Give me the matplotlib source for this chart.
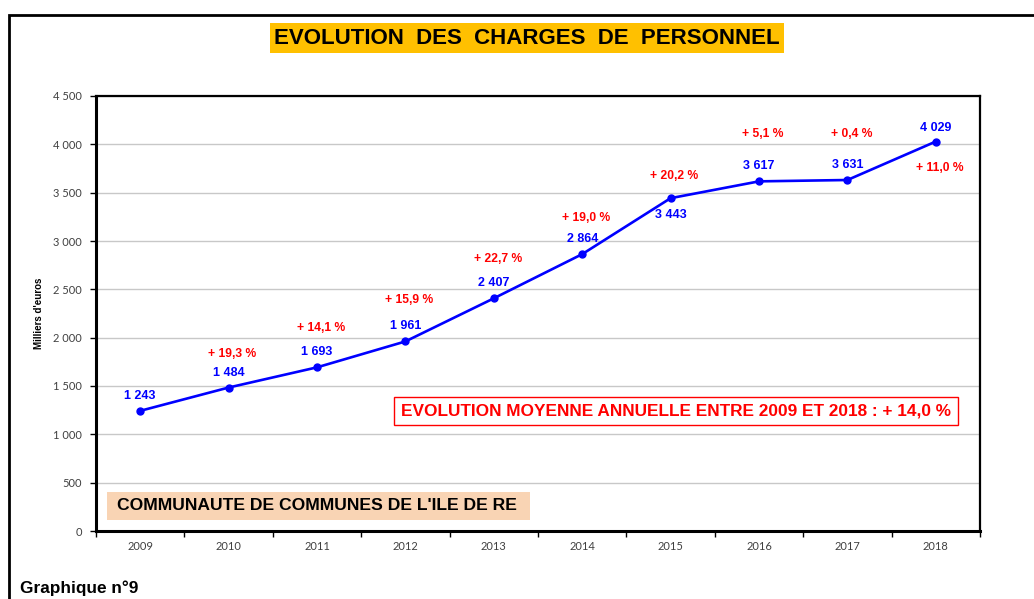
import matplotlib
matplotlib.use("Agg")
import matplotlib.pyplot as plt
from matplotlib.patches import Rectangle
from matplotlib.ticker import FuncFormatter, MultipleLocator

# data
years = ["2009", "2010", "2011", "2012", "2013", "2014", "2015", "2016", "2017", "2018"]
charges = [1243, 1484, 1693, 1961, 2407, 2864, 3443, 3617, 3631, 4029]
value_labels = ["1 243", "1 484", "1 693", "1 961", "2 407", "2 864", "3 443", "3 617", "3 631", "4 029"]
growth_labels = ["", "+ 19,3 %", "+ 14,1 %", "+ 15,9 %", "+ 22,7 %", "+ 19,0 %",
                 "+ 20,2 %", "+ 5,1 %", "+ 0,4 %", "+ 11,0 %"]

# label offsets in pixels (layout only)
value_dy = [15, 15, 15, 15, 15, 15, -17, 15, 15, 14]
growth_dy = [0, 34, 39, 41, 39, 36, 22, 47, 46, -26]

BLUE = "#0000FF"
RED = "#FF0000"

fig = plt.figure(figsize=(10.34, 5.99), dpi=100)
fig.patch.set_facecolor("white")

# outer frame (runs off the right/bottom edges)
fig.patches.append(Rectangle((9 / 1034, -0.1), 1.2, 0.975 + 0.1, transform=fig.transFigure,
                             fill=False, edgecolor="black", linewidth=2, clip_on=False))

ax = fig.add_axes([96 / 1034, 68 / 599, 884 / 1034, 435 / 599])
x = list(range(len(years)))

ax.plot(x, charges, color=BLUE, linewidth=1.9, marker="o", markersize=5, zorder=3)

ax.set_xlim(-0.5, len(years) - 0.5)
ax.set_ylim(0, 4500)
ax.yaxis.set_major_locator(MultipleLocator(500))
ax.yaxis.set_major_formatter(FuncFormatter(lambda v, p: f"{int(v):,}".replace(",", " ")))
ax.set_xticks([i + 0.5 for i in range(-1, len(years))])
ax.set_xticklabels([])
ax.set_xticks(x, minor=True)
ax.set_xticklabels(years, minor=True)
ax.tick_params(axis="x", which="minor", length=0, pad=7, labelsize=8, labelcolor="#404040")
ax.tick_params(axis="x", which="major", length=4, width=1, direction="out")
ax.tick_params(axis="y", length=4, width=1, labelsize=8, labelcolor="#404040", pad=6)
for lab in ax.get_xticklabels(minor=True) + ax.get_yticklabels():
    lab.set_fontfamily("Lato")

ax.grid(axis="y", color="#c8c8c8", linewidth=1)
ax.set_axisbelow(True)
for side in ["left", "bottom"]:
    ax.spines[side].set_linewidth(2.2)
for side in ["top", "right"]:
    ax.spines[side].set_linewidth(1.6)

ax.set_ylabel("Milliers d'euros", fontsize=7, fontweight="bold", family="Liberation Sans", labelpad=7)

for i in range(len(years)):
    ax.annotate(value_labels[i], (x[i], charges[i]), xytext=(0, value_dy[i]),
                textcoords="offset pixels", ha="center", va="center",
                color=BLUE, fontsize=9, fontweight="bold", family="Liberation Sans")
    if growth_labels[i]:
        ax.annotate(growth_labels[i], (x[i], charges[i]), xytext=(4, growth_dy[i]),
                    textcoords="offset pixels", ha="center", va="center",
                    color=RED, fontsize=8.7, fontweight="bold", family="Liberation Sans")

# title
fig.text(527 / 1034, 1 - 38 / 599, "EVOLUTION  DES  CHARGES  DE  PERSONNEL",
         ha="center", va="center", fontsize=16, fontweight="bold", family="Liberation Sans",
         bbox=dict(boxstyle="square,pad=0.2", facecolor="#FFC000", edgecolor="none"))

# average growth box
fig.text(676 / 1034, 1 - 411 / 599, "EVOLUTION MOYENNE ANNUELLE ENTRE 2009 ET 2018 : + 14,0 %",
         ha="center", va="center", fontsize=12.4, fontweight="bold", color=RED,
         family="Liberation Sans",
         bbox=dict(boxstyle="square,pad=0.4", facecolor="white", edgecolor=RED, linewidth=1))

# territory box
fig.patches.append(Rectangle((107 / 1034, 1 - 520 / 599), 423 / 1034, 28 / 599,
                             transform=fig.transFigure, facecolor="#F9D4B4", edgecolor="none"))
fig.text(117 / 1034, 1 - 506 / 599, "COMMUNAUTE DE COMMUNES DE L'ILE DE RE",
         ha="left", va="center", fontsize=12.6, fontweight="bold", color="black",
         family="Liberation Sans")

fig.text(20 / 1034, 1 - 588 / 599, "Graphique n°9", ha="left", va="center",
         fontsize=12.4, fontweight="bold", family="Liberation Sans")

fig.savefig("out.png", dpi=100)
